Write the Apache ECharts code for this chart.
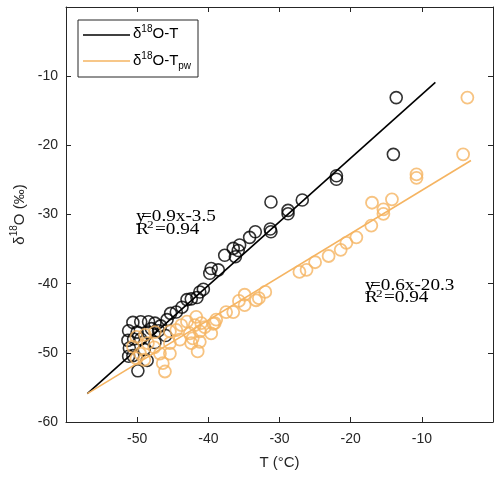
<!DOCTYPE html>
<html>
<head>
<meta charset="utf-8">
<script src="https://cdn.jsdelivr.net/npm/echarts@6/dist/echarts.min.js"></script>
<style>html,body{margin:0;padding:0;background:#fff}#c{width:500px;height:480px}</style>
</head>
<body>
<div id="c"></div>
<script>
// δ18O vs T (black) data
const blackT = [-13.6, -14.0, -22.0, -22.0, -26.8, -31.2, -28.8, -28.8, -31.3, -31.2, -33.4, -34.2, -35.6, -36.5, -35.8, -37.7, -36.2, -39.6, -38.6, -39.8, -40.7, -41.2, -41.6, -42.4, -43.0, -43.7, -44.5, -45.3, -45.8, -46.7, -47.5, -48.4, -49.5, -50.6, -51.2, -51.3, -51.1, -51.2, -50.6, -49.9, -48.6, -49.5, -48.5, -47.5, -46.0, -50.0, -49.0, -48.0, -50.5, -47.0];
const blackD = [-13.1, -21.3, -24.4, -24.9, -27.9, -28.2, -29.4, -29.9, -32.1, -32.5, -32.5, -33.3, -34.4, -34.9, -35.2, -35.9, -36.1, -37.8, -38.0, -38.5, -40.8, -41.2, -42.0, -42.2, -42.3, -43.4, -44.1, -44.3, -45.2, -46.1, -45.7, -45.5, -45.5, -45.6, -46.8, -48.2, -49.3, -50.5, -50.4, -52.6, -51.1, -48.0, -47.0, -48.5, -47.5, -47.0, -49.5, -46.5, -48.0, -46.8];
// δ18O vs Tpw (orange) data
const orangeT = [-3.6, -4.2, -10.75, -10.75, -14.2, -17.0, -15.4, -15.4, -17.1, -19.2, -20.6, -21.4, -23.1, -25.0, -26.2, -27.2, -32.0, -32.9, -33.3, -34.9, -34.9, -35.7, -36.5, -37.5, -38.9, -39.1, -39.3, -41.0, -41.7, -41.9, -41.2, -39.6, -41.2, -41.5, -42.2, -42.6, -42.4, -43.8, -44.5, -45.4, -44.0, -45.4, -45.4, -46.8, -46.4, -46.1, -48.5, -48.9, -50.1, -50.6, -49.6, -50.1, -47.5, -43.0, -40.5, -47.6, -49.0];
const orangeD = [-13.1, -21.3, -24.2, -24.7, -27.8, -28.3, -29.25, -29.9, -31.6, -33.3, -34.1, -35.1, -36.0, -36.9, -38.0, -38.3, -41.2, -42.1, -42.4, -41.6, -43.1, -42.5, -44.1, -44.1, -45.2, -45.7, -45.8, -45.7, -44.8, -46.0, -46.9, -47.2, -48.4, -49.8, -47.9, -47.2, -48.6, -46.0, -46.7, -46.9, -48.1, -48.6, -50.1, -50.1, -51.5, -52.7, -48.6, -47.4, -47.7, -49.1, -50.1, -50.8, -47.0, -45.5, -46.3, -49.2, -51.0];
// regression line end points
const blackLineT = [-57.0, -8.1];
const blackLineD = [-55.9, -10.9];
const orangeLineT = [-57.0, -3.1];
const orangeLineD = [-55.9, -22.2];
const xTicks = [-50, -40, -30, -20, -10];
const yTicks = [-60, -50, -40, -30, -20, -10];

const BLACK = '#000000';
const ORANGE = '#F5B462';
const AX = '#262626';
const SANS = 'Liberation Sans, Arial, sans-serif';
const SERIF = '"Liberation Serif", "Times New Roman", serif';
const zip = (a, b) => a.map((v, i) => [v, b[i]]);

const chart = echarts.init(document.getElementById('c'), null, {renderer: 'canvas'});
const axisCommon = {
  type: 'value', min: -60, max: 0, interval: 10,
  axisLine: {show: true, onZero: false, lineStyle: {color: AX, width: 1}},
  axisTick: {show: true, inside: true, length: 5, lineStyle: {color: AX, width: 1}},
  splitLine: {show: false}
};
const supRich = {
  a: {fontSize: 15, color: AX, fontFamily: SANS, lineHeight: 20},
  sup: {fontSize: 10, color: AX, fontFamily: SANS, verticalAlign: 'top', lineHeight: 12},
  sub: {fontSize: 10, color: AX, fontFamily: SANS, verticalAlign: 'bottom', lineHeight: 10}
};
function annot(x, y, eq) {
  const s = {scaleX: 1.2, z: 11};
  const f = '16px ' + SERIF;
  return [
    Object.assign({type: 'text', x: x, y: y, style: {text: 'y', font: f, fill: '#000'}}, s),
    Object.assign({type: 'text', x: x + 5, y: y, style: {text: '=' + eq, font: f, fill: '#000'}}, s),
    Object.assign({type: 'text', x: x, y: y + 12.5, style: {text: 'R', font: f, fill: '#000'}}, s),
    Object.assign({type: 'text', x: x + 11, y: y + 11, style: {text: '2', font: '11px ' + SERIF, fill: '#000'}}, s),
    Object.assign({type: 'text', x: x + 19, y: y + 12.5, style: {text: '=0.94', font: f, fill: '#000'}}, s)
  ];
}
chart.setOption({
  backgroundColor: '#fff',
  animation: false,
  grid: {left: 66, right: 7, top: 7, bottom: 58, containLabel: false, outerBoundsMode: 'none'},
  xAxis: [
    Object.assign({}, axisCommon, {
      position: 'bottom',
      axisLabel: {fontSize: 14, color: AX, margin: 10, fontFamily: SANS,
        formatter: v => xTicks.includes(v) ? String(v) : ''},
      name: 'T (°C)', nameLocation: 'middle', nameGap: 33,
      nameTextStyle: {fontSize: 15, color: AX, fontFamily: SANS}
    }),
    Object.assign({}, axisCommon, {position: 'top', axisLabel: {show: false}})
  ],
  yAxis: [
    Object.assign({}, axisCommon, {
      position: 'left',
      axisLabel: {fontSize: 14, color: AX, margin: 8, fontFamily: SANS,
        formatter: v => yTicks.includes(v) ? String(v) : ''},
      name: '{a|δ}{sup|18}{a|O (‰)}', nameLocation: 'middle', nameGap: 34, nameRotate: 90,
      nameTextStyle: {rich: supRich}
    }),
    Object.assign({}, axisCommon, {position: 'right', axisLabel: {show: false}})
  ],
  series: [
    {type: 'scatter', name: 'black pts', data: zip(blackT, blackD), symbol: 'circle', symbolSize: 12,
      itemStyle: {color: 'rgba(0,0,0,0)', borderColor: BLACK, borderWidth: 1.6}, z: 2},
    {type: 'line', name: 'δ18O-T', data: zip(blackLineT, blackLineD), symbol: 'none',
      lineStyle: {color: BLACK, width: 1.6}, z: 3},
    {type: 'scatter', name: 'orange pts', data: zip(orangeT, orangeD), symbol: 'circle', symbolSize: 12,
      itemStyle: {color: 'rgba(0,0,0,0)', borderColor: ORANGE, borderWidth: 1.8}, z: 4},
    {type: 'line', name: 'δ18O-Tpw', data: zip(orangeLineT, orangeLineD), symbol: 'none',
      lineStyle: {color: ORANGE, width: 1.6}, z: 5}
  ],
  graphic: [
    {type: 'rect', shape: {x: 78, y: 20, width: 120, height: 57}, style: {fill: '#fff', stroke: AX, lineWidth: 1}, z: 10},
    {type: 'line', shape: {x1: 83, y1: 35, x2: 130, y2: 35}, style: {stroke: BLACK, lineWidth: 1.6}, z: 11},
    {type: 'line', shape: {x1: 83, y1: 61, x2: 130, y2: 61}, style: {stroke: ORANGE, lineWidth: 1.6}, z: 11},
    {type: 'text', x: 133, y: 34, z: 11, style: {text: '{a|δ}{sup|18}{a|O-T}', rich: supRich, verticalAlign: 'middle'}},
    {type: 'text', x: 133, y: 61, z: 11, style: {text: '{a|δ}{sup|18}{a|O-T}{sub|pw}', rich: supRich, verticalAlign: 'middle'}}
  ].concat(annot(136, 209, '0.9x-3.5')).concat(annot(365, 277.5, '0.6x-20.3'))
});
</script>
</body>
</html>
